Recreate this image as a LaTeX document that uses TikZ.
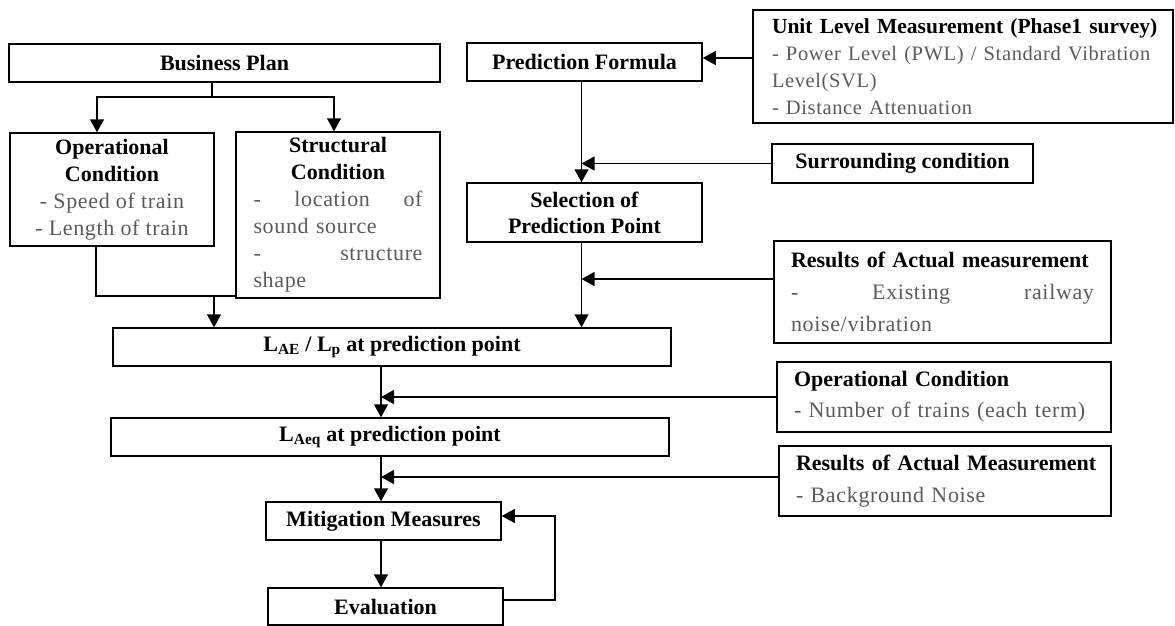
\documentclass[tikz,border=0pt]{standalone}
\usepackage{fontspec}
\setmainfont{Liberation Serif}
\newfontfamily\bodyfont{Liberation Serif}[LetterSpace=3]
\usetikzlibrary{arrows.meta}
\definecolor{bodygray}{HTML}{5A5A5A}
\newcommand{\desc}{\bodyfont\mdseries\color{bodygray}}
\newcommand{\fullline}[1]{\leavevmode\hbox to \linewidth{#1}}
\begin{document}
\begin{tikzpicture}[x=1pt,y=-1pt,
  box/.style={draw, line width=1.5pt, inner sep=0pt, font=\fontsize{22}{27}\selectfont\bfseries},
  link/.style={line width=1.5pt},
  arr/.style={link, -{Triangle[width=14pt,length=13pt]}},
  thinlink/.style={line width=1.1pt}]
\useasboundingbox (0,0) rectangle (1175,626);

% left column
\node[box, minimum width=431pt, minimum height=38pt] (bp) at (224.5,63) {Business Plan};
\node[box, minimum width=204pt, minimum height=113pt, align=center] (opl) at (112,189.5)
  {Operational\\Condition\\{\desc - Speed of train}\\{\desc - Length of train}};
\node[box, minimum width=204pt, minimum height=166pt, text width=169pt, align=center] (str) at (338,215)
  {Structural\\Condition\\
   {\desc\fullline{-\hfil location\hfil of}}\\
   {\desc\fullline{sound source\hfil}}\\
   {\desc\fullline{-\hfil\hfil structure}}\\
   {\desc\fullline{shape\hfil}}};

% middle column
\node[box, minimum width=235pt, minimum height=38pt] (pf) at (584.5,62) {Prediction Formula};
\node[box, minimum width=235pt, minimum height=59pt, align=center, font=\fontsize{22}{26}\selectfont\bfseries] (sel) at (584.5,212.5)
  {Selection of\\Prediction Point};
\node[box, minimum width=558pt, minimum height=38pt] (lae) at (392,347)
  {L\textsubscript{AE} / L\textsubscript{p} at prediction point};
\node[box, minimum width=558pt, minimum height=38pt] (laeq) at (390,437)
  {L\textsubscript{Aeq} at prediction point};
\node[box, minimum width=235pt, minimum height=38pt] (mit) at (383.5,521) {Mitigation Measures};
\node[box, minimum width=235pt, minimum height=37pt] (eva) at (385.5,606.5) {Evaluation};

% right column
\node[box, minimum width=420pt, minimum height=113pt, text width=382pt, align=left, font=\fontsize{21.5}{27}\selectfont\bfseries] (unit) at (963,66.5)
  {\mbox{Unit Level Measurement (Phase1 survey)}\\
   {\desc\fontsize{20.5}{27}\selectfont\mbox{- Power Level (PWL) / Standard Vibration}}\\
   {\desc\fontsize{20.5}{27}\selectfont Level(SVL)}\\
   {\desc\fontsize{20.5}{27}\selectfont - Distance Attenuation}};
\node[box, minimum width=261pt, minimum height=39pt] (sur) at (902.5,163.5) {Surrounding condition};
\node[box, minimum width=337pt, minimum height=102pt, text width=303pt, align=left, font=\fontsize{22}{32}\selectfont\bfseries] (res1) at (942.5,292)
  {\mbox{Results of Actual measurement}\\
   {\desc\fullline{-\hfil Existing\hfil railway}}\\
   {\desc noise/vibration}};
\node[box, minimum width=334pt, minimum height=70pt, text width=300pt, align=left, font=\fontsize{22}{31}\selectfont\bfseries] (opr) at (944,397)
  {Operational Condition\\
   {\desc\mbox{- Number of trains (each term)}}};
\node[box, minimum width=332pt, minimum height=70pt, text width=298pt, align=left, font=\fontsize{22}{32}\selectfont\bfseries] (res2) at (945,481)
  {\mbox{Results of Actual Measurement}\\
   {\desc - Background Noise}};

% business plan splits into the two condition boxes
\coordinate (split) at (212,97);
\draw[link] (split |- bp.south) -- (split);
\draw[arr] (split) -| (opl.north -| 97,0);
\draw[arr] (split) -| (str.north -| 334,0);

% both condition boxes merge into the level box
\coordinate (merge) at (214,296);
\draw[thinlink] (opl.south -| 96,0) |- (str.west |- merge);
\draw[arr] (merge) -- (merge |- lae.north);

% prediction branch
\draw[arr] (unit.west |- 0,58) -- (pf.east |- 0,58);
\draw[arr] (pf.south -| 581.5,0) -- (sel.north -| 581.5,0);
\draw[arr] (sur.west) -- (sur.west -| 581.5,0);
\draw[arr] (sel.south -| 581.5,0) -- (lae.north -| 581.5,0);
\draw[arr] (res1.west |- 0,279) -- (581.5,279);

% main spine
\draw[arr] (lae.south -| 381,0) -- (laeq.north -| 381,0);
\draw[arr] (opr.west) -- (opr.west -| 381,0);
\draw[arr] (laeq.south -| 381,0) -- (mit.north -| 381,0);
\draw[arr] (res2.west |- 0,477) -- (381,477);
\draw[arr] (mit.south -| 381,0) -- (eva.north -| 381,0);

% feedback loop from evaluation to mitigation
\draw[thinlink, -{Triangle[width=14pt,length=13pt]}] (eva.east |- 0,600) -- (555,600) -- (555,516) -- (mit.east |- 0,516);
\end{tikzpicture}
\end{document}
